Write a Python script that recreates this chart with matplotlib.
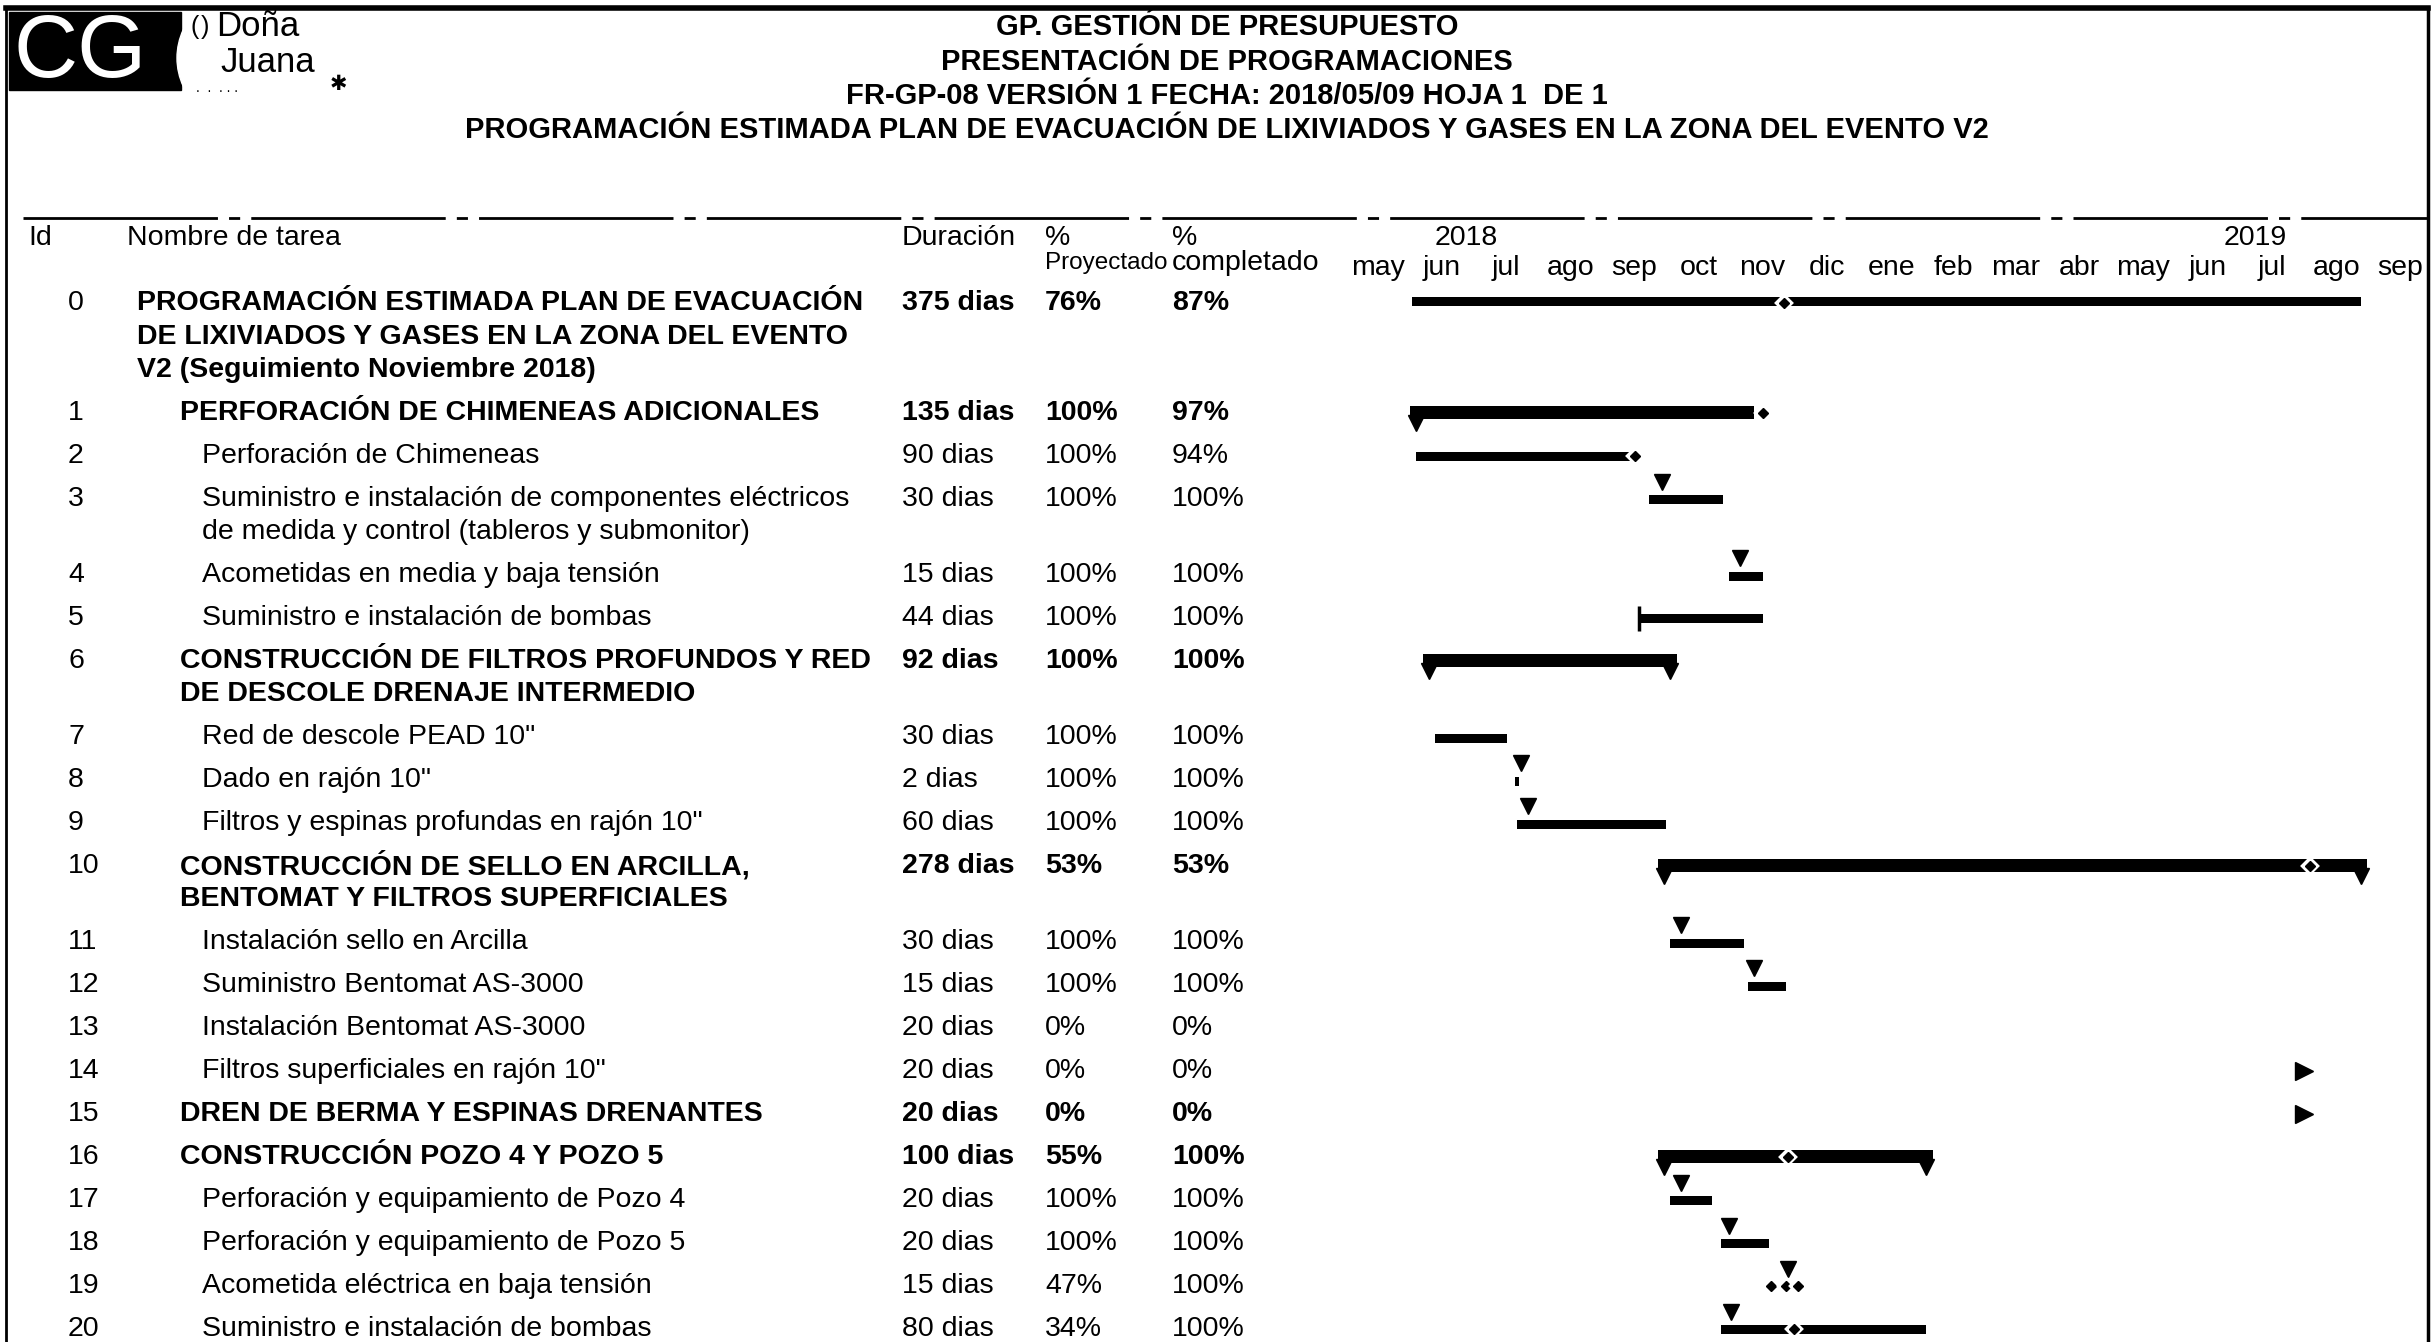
import matplotlib
matplotlib.use('Agg')
import matplotlib.pyplot as plt
import matplotlib.dates as mdates
import matplotlib.patches as mpatches
import pandas as pd

plt.rcParams['font.family'] = ['Liberation Sans', 'DejaVu Sans']

# ---- datos de la programación ----
ids = list(range(21))
names = [
    'PROGRAMACIÓN ESTIMADA PLAN DE EVACUACIÓN\nDE LIXIVIADOS Y GASES EN LA ZONA DEL EVENTO\nV2 (Seguimiento Noviembre 2018)',
    'PERFORACIÓN DE CHIMENEAS ADICIONALES',
    'Perforación de Chimeneas',
    'Suministro e instalación de componentes eléctricos\nde medida y control (tableros y submonitor)',
    'Acometidas en media y baja tensión',
    'Suministro e instalación de bombas',
    'CONSTRUCCIÓN DE FILTROS PROFUNDOS Y RED\nDE DESCOLE DRENAJE INTERMEDIO',
    'Red de descole PEAD 10"',
    'Dado en rajón 10"',
    'Filtros y espinas profundas en rajón 10"',
    'CONSTRUCCIÓN DE SELLO EN ARCILLA,\nBENTOMAT Y FILTROS SUPERFICIALES',
    'Instalación sello en Arcilla',
    'Suministro Bentomat AS-3000',
    'Instalación Bentomat AS-3000',
    'Filtros superficiales en rajón 10"',
    'DREN DE BERMA Y ESPINAS DRENANTES',
    'CONSTRUCCIÓN POZO 4 Y POZO 5',
    'Perforación y equipamiento de Pozo 4',
    'Perforación y equipamiento de Pozo 5',
    'Acometida eléctrica en baja tensión',
    'Suministro e instalación de bombas',
]
level = [0, 1, 2, 2, 2, 2, 1, 2, 2, 2, 1, 2, 2, 2, 2, 1, 1, 2, 2, 2, 2]
duracion = [375, 135, 90, 30, 15, 44, 92, 30, 2, 60, 278, 30, 15, 20, 20, 20, 100, 20, 20, 15, 80]
pct_proyectado = [76, 100, 100, 100, 100, 100, 100, 100, 100, 100, 53, 100, 100, 0, 0, 0, 55, 100, 100, 47, 34]
pct_completado = [87, 97, 94, 100, 100, 100, 100, 100, 100, 100, 53, 100, 100, 0, 0, 0, 100, 100, 100, 100, 100]

bar_start = ['2018-06-02', '2018-06-01', '2018-06-04', '2018-09-23', '2018-10-31', '2018-09-18',
             '2018-06-07', '2018-06-13', '2018-07-21', '2018-07-22', '2018-09-27', '2018-10-03',
             '2018-11-09', None, None, None, '2018-09-27', '2018-10-03', '2018-10-27', None, '2018-10-27']
bar_end = ['2019-08-28', '2018-11-12', '2018-09-14', '2018-10-28', '2018-11-16', '2018-11-16',
           '2018-10-06', '2018-07-17', '2018-07-23', '2018-10-01', '2019-08-31', '2018-11-07',
           '2018-11-27', None, None, None, '2019-02-05', '2018-10-23', '2018-11-19', None, '2019-02-02']

# triángulos de línea base sobre las barras
base_rows = [3, 4, 8, 9, 11, 12, 17, 18, 19, 20]
base_dates = ['2018-09-29', '2018-11-05', '2018-07-24', '2018-07-27', '2018-10-08', '2018-11-12',
              '2018-10-08', '2018-10-31', '2018-11-28', '2018-11-01']

# marcas de avance (rombos)
mark_rows = [0, 10, 16, 20, 19, 19, 19, 2, 1]
mark_dates = ['2018-11-26', '2019-08-04', '2018-11-28', '2018-12-01', '2018-11-20', '2018-11-27',
              '2018-12-03', '2018-09-16', '2018-11-16']

# tareas fuera de rango (flecha)
arrow_rows = [14, 15]
arrow_dates = ['2019-08-01', '2019-08-01']

months = ['may', 'jun', 'jul', 'ago', 'sep', 'oct', 'nov', 'dic', 'ene', 'feb', 'mar', 'abr',
          'may', 'jun', 'jul', 'ago', 'sep']
years = ['2018', '2019']
year_dates = ['2018-06-28', '2019-07-09']

titles = ['GP. GESTIÓN DE PRESUPUESTO',
          'PRESENTACIÓN DE PROGRAMACIONES',
          'FR-GP-08 VERSIÓN 1 FECHA: 2018/05/09 HOJA 1  DE 1',
          'PROGRAMACIÓN ESTIMADA PLAN DE EVACUACIÓN DE LIXIVIADOS Y GASES EN LA ZONA DEL EVENTO V2']

# ---- figura ----
W, H = 2435, 1342
fig = plt.figure(figsize=(W / 100, H / 100), dpi=100)
ax = fig.add_axes([0, 0, 1, 1])
ax.set_xlim(0, W)
ax.set_ylim(H, 0)
ax.axis('off')

FS = 20.5
LINE = 33.5

# borde
ax.plot([6, 6], [H, 8], color='black', lw=2)
ax.plot([6, 2428], [8, 8], color='black', lw=4)
ax.plot([2428, 2428], [8, H], color='black', lw=2.5)

# logo
ax.add_patch(mpatches.Rectangle((9, 12), 172, 78, color='black'))
ax.add_patch(mpatches.Ellipse((262, 58), 170, 150, color='white'))
ax.text(14, 54, 'CG', color='white', fontsize=64, va='center', ha='left')
ax.text(190, 27, '(', fontsize=18, va='center')
ax.text(201, 27, ')', fontsize=18, va='center')
ax.text(216, 27, 'Doña', fontsize=25, va='center')
ax.text(220, 62, 'Juana', fontsize=25, va='center')
ax.text(196, 88, '.  .  . . .', fontsize=10, va='center')
ax.text(330, 84, '✱', fontsize=15, va='center', fontweight='bold', family=['DejaVu Sans'])

for i, t in enumerate(titles):
    ax.text(1227, 27 + 34.5 * i, t, ha='center', va='center', fontsize=21, fontweight='bold')

ax.plot([23, 2428], [218, 218], color='black', lw=2, linestyle=(0, (70, 4, 4, 4)))

# encabezado de columnas
ax.text(28, 238, 'Id', fontsize=FS, va='center')
ax.text(127, 238, 'Nombre de tarea', fontsize=FS, va='center')
ax.text(902, 238, 'Duración', fontsize=FS, va='center')
ax.text(1045, 238, '%', fontsize=FS, va='center')
ax.text(1172, 238, '%', fontsize=FS, va='center')
ax.text(1045, 263, 'Proyectado', fontsize=17.5, va='center')
ax.text(1172, 263, 'completado', fontsize=FS, va='center')

# posiciones verticales de las filas
row_y = []
y = 303
for n in names:
    row_y.append(y)
    y += 42.9 + LINE * n.count('\n')

indent = {0: 137, 1: 180, 2: 202}
for i in ids:
    bold = 'bold' if level[i] < 2 else 'normal'
    yy = row_y[i]
    ax.text(68, yy, str(ids[i]), fontsize=FS, va='center')
    for k, line in enumerate(names[i].split('\n')):
        ax.text(indent[level[i]], yy + k * LINE, line, fontsize=FS, va='center', fontweight=bold)
    ax.text(902, yy, f'{duracion[i]} dias', fontsize=FS, va='center', fontweight=bold)
    ax.text(1045, yy, f'{pct_proyectado[i]}%', fontsize=FS, va='center', fontweight=bold)
    ax.text(1172, yy, f'{pct_completado[i]}%', fontsize=FS, va='center', fontweight=bold)

# ---- diagrama de Gantt ----
t0 = pd.Timestamp('2018-05-01')
t1 = pd.Timestamp('2019-10-01')
x0, x1 = 1345, 2432
axg = fig.add_axes([x0 / W, 0, (x1 - x0) / W, 1])
axg.set_xlim(mdates.date2num(t0), mdates.date2num(t1))
axg.set_ylim(H, 0)
axg.axis('off')
axg.patch.set_alpha(0)

month_starts = pd.date_range(t0, t1, freq='MS')
for k, m in enumerate(months):
    mid = month_starts[k] + (month_starts[k + 1] - month_starts[k]) / 2
    axg.text(mdates.date2num(mid), 268, m, ha='center', va='center', fontsize=FS)
for yl, yd in zip(years, year_dates):
    axg.text(mdates.date2num(pd.Timestamp(yd)), 238, yl, ha='center', va='center', fontsize=FS)

for i in ids:
    if bar_start[i] is None:
        continue
    s = mdates.date2num(pd.Timestamp(bar_start[i]))
    e = mdates.date2num(pd.Timestamp(bar_end[i]))
    yy = row_y[i]
    if i == 0:
        axg.barh(yy - 2, e - s, left=s, height=9, color='black')
    elif level[i] == 1:
        axg.barh(yy, e - s, left=s, height=13, color='black')
        axg.plot([s + 3], [yy + 10], marker='v', ms=12, color='black')
        if i != 1:
            axg.plot([e - 3], [yy + 10], marker='v', ms=12, color='black')
    else:
        axg.barh(yy + 1, e - s, left=s, height=9, color='black')
        if i == 5:
            axg.plot([s], [yy], marker='|', ms=18, mew=2.5, color='black')

for r, d in zip(base_rows, base_dates):
    axg.plot([mdates.date2num(pd.Timestamp(d))], [row_y[r] - 17], marker='v', ms=11, color='black')

for r, d in zip(mark_rows, mark_dates):
    xd = mdates.date2num(pd.Timestamp(d))
    axg.plot([xd], [row_y[r]], marker='D', ms=6, color='black', mec='white', mew=4)
    axg.plot([xd], [row_y[r]], marker='D', ms=5, color='black')

for r, d in zip(arrow_rows, arrow_dates):
    axg.plot([mdates.date2num(pd.Timestamp(d))], [row_y[r]], marker='>', ms=13, color='black')

fig.savefig('out.png', dpi=100)
